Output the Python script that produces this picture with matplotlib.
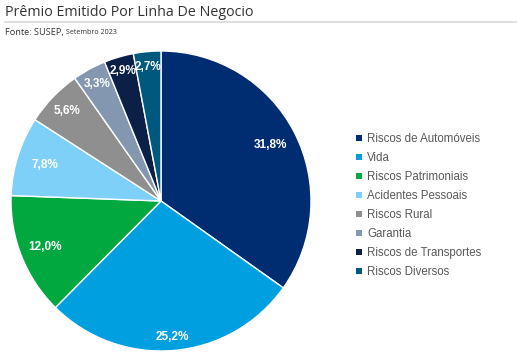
import numpy as np
import matplotlib.pyplot as plt
from matplotlib.lines import Line2D

categorias = ['Riscos de Automóveis', 'Vida', 'Riscos Patrimoniais', 'Acidentes Pessoais',
              'Riscos Rural', 'Garantia', 'Riscos de Transportes', 'Riscos Diversos']
valores = [31.8, 25.2, 12.0, 7.8, 5.6, 3.3, 2.9, 2.7]
rotulos = ['31,8%', '25,2%', '12,0%', '7,8%', '5,6%', '3,3%', '2,9%', '2,7%']
cores = ['#002D72', '#009FDF', '#00A83F', '#7FD0F8', '#8F8F8F', '#8497B0', '#0B1F47', '#00587F']
dist_rotulo = [0.82, 0.91, 0.83, 0.81, 0.87, 0.89, 0.9, 0.9]

fig = plt.figure(figsize=(5.19, 3.55), dpi=100)

# titulo e fonte
fig.text(5 / 519, 1 - 12 / 355, 'Prêmio Emitido Por Linha De Negocio', family='Open Sans',
         fontsize=10.3, color='#333333', va='center', ha='left')
fig.add_artist(Line2D([5 / 519, 516 / 519], [1 - 22 / 355, 1 - 22 / 355], color='#d9d9d9', lw=1.2))
t = fig.text(5 / 519, 1 - 32 / 355, 'Fonte: SUSEP, ', family='Open Sans', fontsize=6.6,
             color='#333333', va='center', ha='left')
fig.canvas.draw()
bb = t.get_window_extent()
fig.text(bb.x1 / 519, 1 - 32 / 355, 'Setembro 2023', family='Open Sans', fontsize=5.1,
         color='#333333', va='center', ha='left')

ax = fig.add_axes([11 / 519, 4 / 355, 300 / 519, 300 / 355])
wedges, _ = ax.pie(valores, colors=cores, startangle=90, counterclock=False,
                   wedgeprops=dict(edgecolor='white', linewidth=1))
for w, rot, d in zip(wedges, rotulos, dist_rotulo):
    ang = np.deg2rad((w.theta1 + w.theta2) / 2)
    ax.text(d * np.cos(ang), d * np.sin(ang), rot, ha='center', va='center', color='white',
            fontsize=8.5, fontweight='bold', family='Liberation Sans')
ax.set_xlim(-1, 1)
ax.set_ylim(-1, 1)
ax.set_aspect('equal')

leg = fig.legend(wedges, categorias, loc='upper left', bbox_to_anchor=(356 / 519, 1 - 133 / 355),
                 frameon=False, prop=dict(family='Liberation Sans', size=8.3),
                 handlelength=0.5, handleheight=0.5, handletextpad=0.45, labelspacing=0.61,
                 borderpad=0, borderaxespad=0)
for tx in leg.get_texts():
    tx.set_color('#595959')
for h in leg.legend_handles:
    h.set_edgecolor('none')

fig.savefig('out.png', dpi=100)
